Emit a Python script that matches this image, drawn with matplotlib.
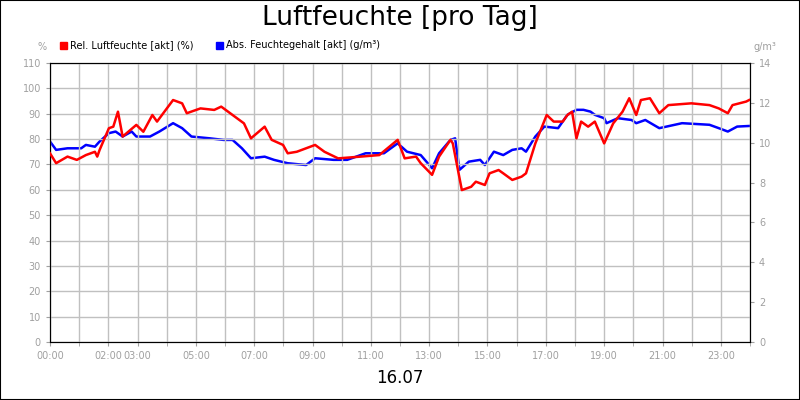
import matplotlib
matplotlib.use("Agg")
import matplotlib.pyplot as plt
from matplotlib.patches import Rectangle

# relative humidity (%), hours since 00:00
rel_h = [0, 0.21, 0.60, 0.92, 1.23, 1.54, 1.62, 1.70, 2.02, 2.17, 2.33, 2.49, 2.96, 3.20, 3.51,
         3.67, 4.22, 4.53, 4.69, 5.16, 5.63, 5.87, 6.26, 6.65, 6.89, 7.36, 7.60, 7.99, 8.15,
         8.46, 9.09, 9.41, 9.88, 10.66, 11.29, 11.92, 12.16, 12.55, 12.71, 13.10, 13.34, 13.73,
         13.81, 14.12, 14.44, 14.60, 14.91, 15.07, 15.38, 15.54, 15.85, 16.17, 16.32, 16.64,
         17.03, 17.27, 17.58, 17.74, 17.90, 18.05, 18.21, 18.45, 18.68, 19.00, 19.31, 19.63,
         19.86, 20.10, 20.26, 20.57, 20.89, 21.20, 21.99, 22.61, 22.93, 23.24, 23.40, 23.87, 23.97]
rel_v = [74.4, 70.5, 73.1, 71.8, 73.7, 75.0, 73.1, 75.7, 84.3, 84.9, 90.8, 81.0, 85.6, 82.9, 89.5,
         86.9, 95.4, 94.1, 90.2, 92.1, 91.5, 92.8, 89.5, 86.2, 80.3, 84.9, 79.7, 77.7, 74.4,
         75.0, 77.7, 75.0, 72.4, 73.1, 73.7, 79.7, 72.4, 73.1, 70.5, 65.9, 73.1, 79.7,
         78.3, 59.9, 61.2, 63.2, 61.9, 66.5, 67.8, 66.5, 63.9, 65.2, 66.5, 78.3,
         89.5, 86.9, 86.9, 89.5, 90.8, 80.3, 86.9, 84.9, 86.9, 78.3, 86.2, 90.8,
         96.1, 89.5, 95.4, 96.1, 90.2, 93.4, 94.1, 93.4, 92.1, 90.2, 93.4, 94.8, 95.4]

# absolute humidity (g/m³)
abs_h = [0, 0.21, 0.60, 1.07, 1.23, 1.54, 1.70, 2.02, 2.25, 2.49, 2.80, 2.96, 3.43, 3.75, 4.22,
         4.53, 4.85, 5.48, 5.95, 6.26, 6.58, 6.89, 7.36, 7.68, 8.15, 8.78, 9.09, 9.72, 10.19,
         10.82, 11.45, 11.92, 12.24, 12.71, 13.10, 13.34, 13.73, 13.89, 14.04, 14.36, 14.75,
         14.91, 15.22, 15.54, 15.85, 16.17, 16.32, 16.64, 16.95, 17.42, 17.74, 18.05, 18.29,
         18.53, 18.68, 19.00, 19.08, 19.47, 19.94, 20.10, 20.41, 20.89, 21.67, 22.61, 22.93,
         23.24, 23.56, 23.97]
abs_v = [10.06, 9.64, 9.72, 9.72, 9.89, 9.80, 10.06, 10.48, 10.56, 10.31, 10.56, 10.31, 10.31,
         10.56, 10.98, 10.73, 10.31, 10.22, 10.14, 10.14, 9.72, 9.22, 9.30, 9.14, 8.97, 8.88,
         9.22, 9.14, 9.14, 9.47, 9.47, 9.97, 9.55, 9.38, 8.72, 9.47, 10.14, 10.22, 8.64, 9.05,
         9.14, 8.88, 9.55, 9.38, 9.64, 9.72, 9.55, 10.31, 10.81, 10.73, 11.40, 11.65, 11.65,
         11.56, 11.40, 11.23, 10.98, 11.23, 11.14, 10.98, 11.14, 10.73, 10.98, 10.90, 10.73,
         10.56, 10.81, 10.84]

hour_labels = ["00:00", "02:00", "03:00", "05:00", "07:00", "09:00", "11:00", "13:00",
               "15:00", "17:00", "19:00", "21:00", "23:00"]
label_hours = [0, 2, 3, 5, 7, 9, 11, 13, 15, 17, 19, 21, 23]

grey = "#a0a0a0"
fig = plt.figure(figsize=(8, 4), dpi=100)
ax = fig.add_axes([50 / 800, 58 / 400, 700 / 800, 279 / 400])
ax2 = ax.twinx()

ax.set_xlim(0, 24)
ax.set_ylim(0, 110)
ax2.set_ylim(0, 14)
ax.set_xticks(range(0, 25))
ax.set_xticks(label_hours)
ax.set_xticks(range(0, 25), minor=True)
ax.set_xticklabels(hour_labels)
ax.set_yticks(range(0, 111, 10))
ax2.set_yticks(range(0, 15, 2))
ax.grid(True, which="both", color="#c0c0c0", lw=1)
for a in (ax, ax2):
    a.tick_params(colors=grey, labelsize=7, length=3, which="both")
    for s in a.spines.values():
        s.set_color("black")

ax2.plot(abs_h, abs_v, color="#0000ff", lw=1.8)
ax.plot(rel_h, rel_v, color="#ff0000", lw=1.8, zorder=5)
ax.set_zorder(ax2.get_zorder() + 1)
ax.patch.set_visible(False)

fig.text(0.5, 0.955, "Luftfeuchte [pro Tag]", ha="center", va="center", fontsize=19)
fig.text(0.5, 0.055, "16.07", ha="center", va="center", fontsize=12)
fig.text(42 / 800, 1 - 47 / 400, "%", ha="center", va="center", fontsize=7, color=grey)
fig.text(765 / 800, 1 - 47 / 400, "g/m³", ha="center", va="center", fontsize=7, color=grey)

for x0, col, txt in [(60, "#ff0000", "Rel. Luftfeuchte [akt] (%)"),
                     (216, "#0000ff", "Abs. Feuchtegehalt [akt] (g/m³)")]:
    fig.patches.append(Rectangle((x0 / 800, 1 - 49 / 400), 7 / 800, 7 / 400, color=col,
                                 transform=fig.transFigure, figure=fig))
    fig.text((x0 + 10) / 800, 1 - 45 / 400, txt, va="center", fontsize=7)

fig.patches.append(Rectangle((0, 0), 1, 1, fill=False, ec="black", lw=1.5,
                             transform=fig.transFigure, figure=fig))
fig.savefig("out.png", dpi=100)
